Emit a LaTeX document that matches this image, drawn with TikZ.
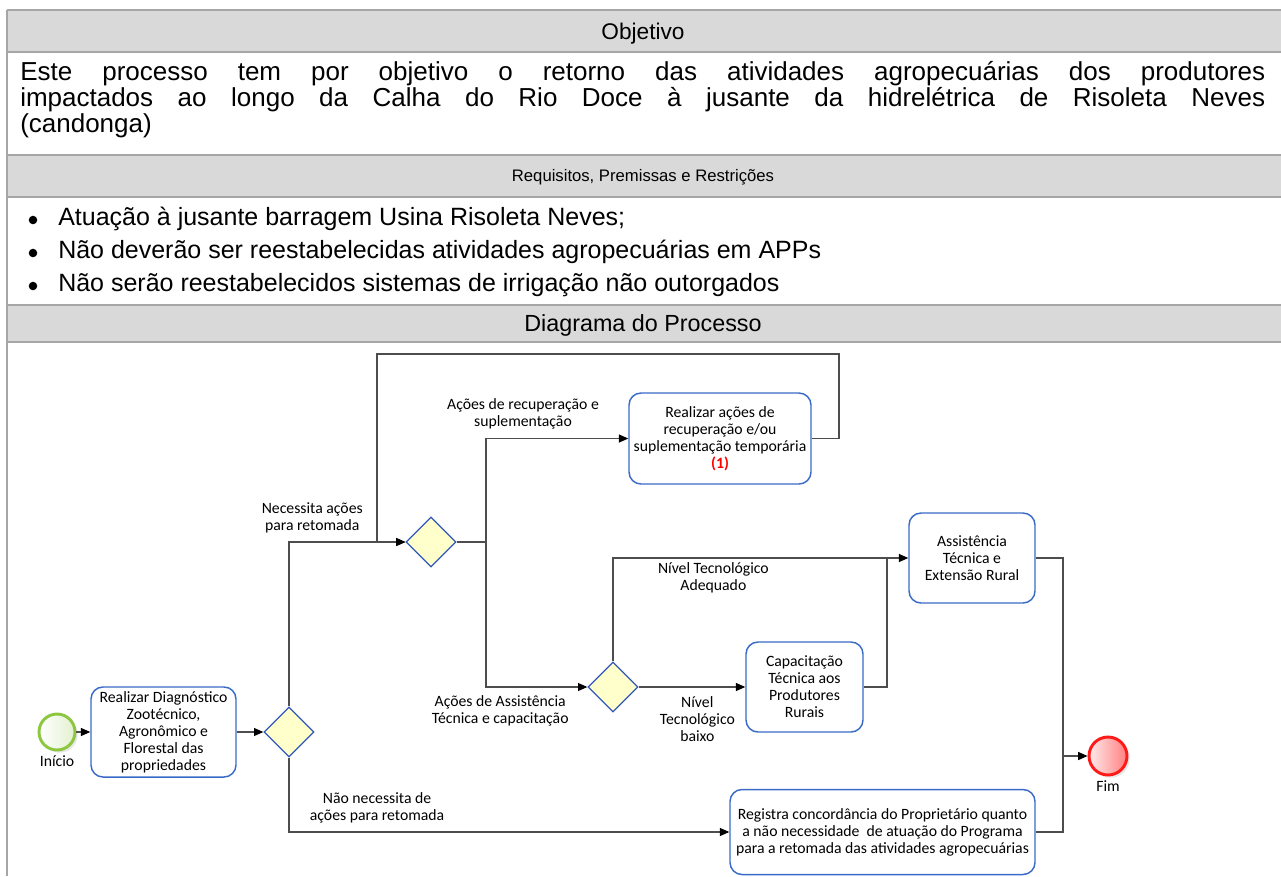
\documentclass[tikz,border=0pt]{standalone}
\usepackage{fontspec}
\setmainfont{Liberation Sans}
\newfontfamily\diagfont{Carlito}
\usetikzlibrary{shapes.geometric,arrows.meta,shadows,positioning}

\definecolor{bandgray}{HTML}{D9D9D9}
\definecolor{framegray}{HTML}{A6A6A6}
\definecolor{taskblue}{HTML}{3A6BC8}
\definecolor{gateblue}{HTML}{3158B8}
\definecolor{gatefill}{HTML}{FFFFCC}
\definecolor{linegray}{HTML}{4D4D4D}
\definecolor{startgreen}{HTML}{8DC63F}
\definecolor{endred}{HTML}{FF1A1A}

\begin{document}
\begin{tikzpicture}[x=0.75pt, y=-0.75pt,
  frameline/.style = {draw=framegray, line width=1.5pt},
  header/.style = {anchor=base, inner sep=0pt},
  objline/.style = {anchor=base west, inner sep=0pt, font=\fontsize{19.5}{21}\selectfont},
  reqitem/.style = {anchor=base west, inner sep=0pt, font=\fontsize{18.75}{22}\selectfont},
  task/.style = {rectangle, rounded corners=9pt, draw=taskblue, line width=1.1pt, fill=white,
                 align=center, inner sep=1pt, font=\diagfont\fontsize{11.8}{12.75}\selectfont},
  gateway/.style = {diamond, draw=gateblue, line width=1pt, fill=gatefill,
                    minimum width=37.5pt, minimum height=37.5pt, inner sep=0pt},
  event/.style = {circle, minimum size=27pt, inner sep=0pt, line width=2.2pt,
                  drop shadow={shadow xshift=2pt, shadow yshift=-2pt, opacity=0.2}},
  flow/.style = {draw=linegray, line width=0.8pt, -{Triangle[length=7pt, width=6pt, color=black, fill=black]}},
  mergeline/.style = {draw=linegray, line width=0.8pt},
  flowlabel/.style = {align=center, inner sep=1pt, font=\diagfont\fontsize{11.8}{12.75}\selectfont}]
  \useasboundingbox (0,0) rectangle (1281,876);

  % Table frame.
  \fill [bandgray] (7,10) rectangle (1281,52);
  \fill [bandgray] (7,155) rectangle (1281,197);
  \fill [bandgray] (7,305) rectangle (1281,342);
  \foreach \yrule in {10,52,155,197,305,342}
    \draw [frameline] (7,\yrule) -- (1281,\yrule);
  \draw [frameline] (7,10) -- (7,876);

  % Headers.
  \node at (643,39) [header, font=\fontsize{17}{20}\selectfont, name=objetivoTitle] {Objetivo};
  \node at (643,181) [header, font=\fontsize{12.5}{15}\selectfont, name=requisitosTitle] {Requisitos, Premissas e Restrições};
  \node at (643,331) [header, font=\fontsize{17.5}{20}\selectfont, name=diagramaTitle] {Diagrama do Processo};

  % Objective text.
  \node at (20,80) [objline, name=objetivoLine1]
    {\makebox[933.75pt][s]{Este processo tem por objetivo o retorno das atividades agropecuárias dos produtores}};
  \node at (20,106) [objline, name=objetivoLine2]
    {\makebox[933.75pt][s]{impactados ao longo da Calha do Rio Doce à jusante da hidrelétrica de Risoleta Neves}};
  \node at (20,132) [objline, name=objetivoLine3] {(candonga)};

  % Requirements.
  \foreach \ybase/\reqtext [count=\reqnum] in
    {225/{Atuação à jusante barragem Usina Risoleta Neves;},
     258/{Não deverão ser reestabelecidas atividades agropecuárias em APPs},
     291/{Não serão reestabelecidos sistemas de irrigação não outorgados}} {
    \fill (33,\ybase-5) circle (3.2pt);
    \node at (58,\ybase) [reqitem, name=req\reqnum] {\reqtext};
  }

  % Events.
  \node at (57,732) [event, draw=startgreen, left color=white, right color=startgreen!25, name=inicio] {};
  \node at (1108,756) [event, minimum size=28.5pt, draw=endred, left color=red!8, right color=red!50, name=fim] {};
  \node [flowlabel, below=2pt of inicio, name=inicioLabel] {Início};
  \node [flowlabel, below=2pt of fim, name=fimLabel] {Fim};

  % Tasks.
  \node at (163.5,732) [task, minimum width=108.75pt, minimum height=67.5pt, name=diagnostico]
    {Realizar Diagnóstico\\Zootécnico,\\Agronômico e\\Florestal das\\propriedades};
  \node at (720,438.5) [task, minimum width=136.5pt, minimum height=68.25pt, name=recuperacao]
    {Realizar ações de\\recuperação e/ou\\suplementação temporária\\{\bfseries\color{red}(1)}};
  \node at (804.5,687) [task, minimum width=87.75pt, minimum height=67.5pt, name=capacitacao]
    {Capacitação\\Técnica aos\\Produtores\\Rurais};
  \node at (972,558) [task, minimum width=94.5pt, minimum height=67.5pt, name=assistencia]
    {Assistência\\Técnica e\\Extensão Rural};
  \node at (882.5,832) [task, minimum width=228.75pt, minimum height=63.75pt, name=registra]
    {Registra concordância do Proprietário quanto\\a não necessidade\ \ de atuação do Programa\\para a retomada das atividades agropecuárias};

  % Gateways.
  \node at (289,732) [gateway, name=decisaoRetomada] {};
  \node at (431,542) [gateway, name=decisaoAcoes] {};
  \node at (613,687) [gateway, name=decisaoNivel] {};

  % Bend points.
  \coordinate (loopRight) at (839,354);
  \coordinate (loopLeft) at (377,354);
  \coordinate (splitAcoes) at (486,542);
  \coordinate (joinAssist) at (887,558);
  \coordinate (mergeFim) at (1063,756);
  \coordinate (mergeBottom) at (1063,832);

  % Flows.
  \draw [flow] (inicio) -- (diagnostico);
  \draw [flow] (diagnostico) -- (decisaoRetomada);
  \draw [flow] (decisaoRetomada.north)
               |- node [flowlabel, pos=0.6, above, yshift=5pt] {Necessita ações\\para retomada}
               (decisaoAcoes.west);
  \draw [flow] (recuperacao.east) -| (loopRight) -- (loopLeft) |- (decisaoAcoes.west);
  \draw [flow] (decisaoAcoes.east) -- (splitAcoes)
               |- node [flowlabel, pos=0.63, above, yshift=6pt] {Ações de recuperação e\\suplementação}
               (recuperacao.west);
  \draw [flow] (splitAcoes)
               |- node [flowlabel, pos=0.57, below, yshift=-5pt] {Ações de Assistência\\Técnica e capacitação}
               (decisaoNivel.west);
  \draw [flow] (decisaoNivel.north)
               |- node [flowlabel, pos=0.67, below, yshift=-2pt] {Nível Tecnológico\\Adequado}
               (assistencia.west);
  \draw [flow] (decisaoNivel)
               to node [flowlabel, pos=0.55, below, yshift=-6pt] {Nível\\Tecnológico\\baixo}
               (capacitacao);
  \draw [mergeline] (capacitacao.east) -| (joinAssist);
  \draw [mergeline] (assistencia.east) -| (mergeBottom) -- (registra.east);
  \draw [flow] (mergeFim) -- (fim);
  \draw [flow] (decisaoRetomada.south)
               |- node [flowlabel, pos=0.6, above, yshift=5pt] {Não necessita de\\ações para retomada}
               (registra.west);
\end{tikzpicture}
\end{document}
